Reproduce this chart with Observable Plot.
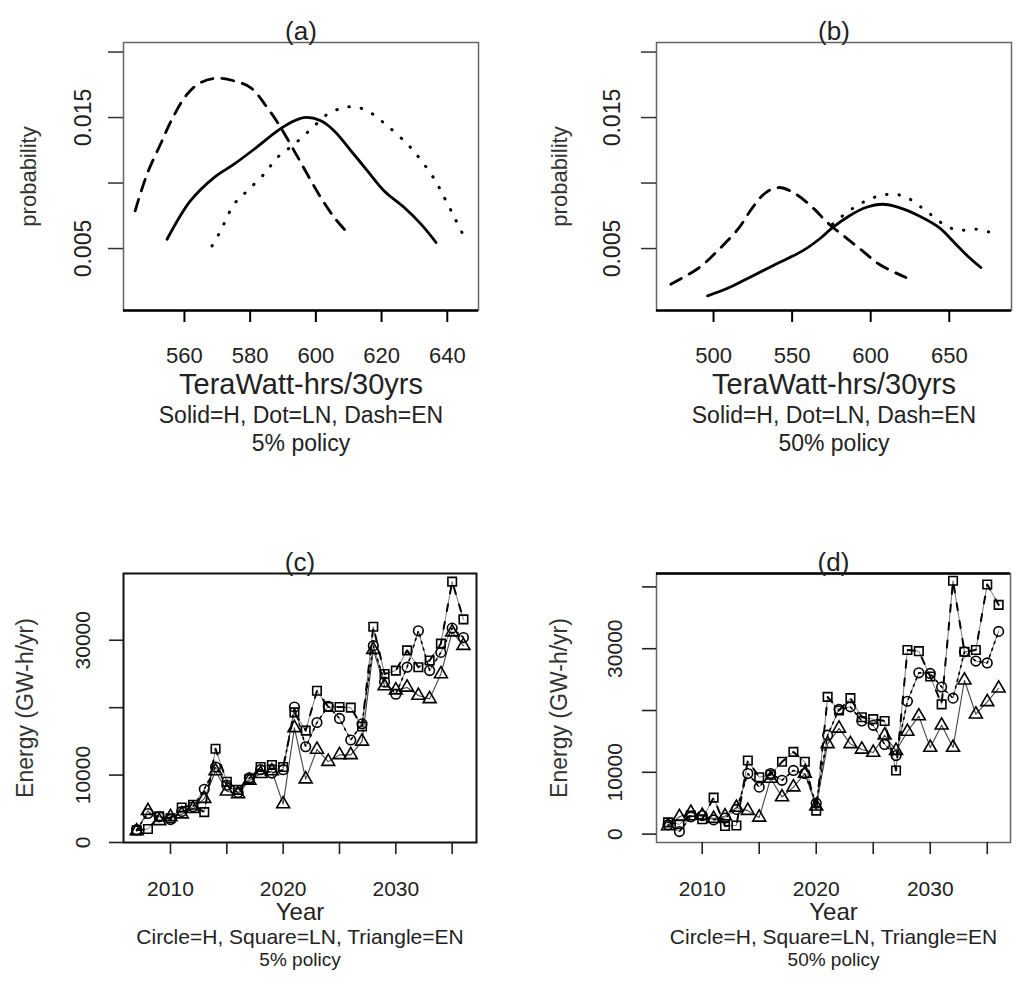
<!DOCTYPE html>
<html><head><meta charset="utf-8">
<script src="https://cdn.jsdelivr.net/npm/d3@7"></script>
<script src="https://cdn.jsdelivr.net/npm/@observablehq/plot@0.6"></script>
<style>
html,body{margin:0;padding:0;background:#fff;}
#root{position:relative;width:1024px;height:989px;overflow:hidden;font-family:"Liberation Sans",Arial,sans-serif;}
.panel{position:absolute;}
.panel svg{overflow:visible;}
</style></head><body><div id="root"></div>
<script>
// ---------- Panel (a): 5% policy densities ----------
const aSolidX = [554.7, 561.8, 569.0, 575.1, 581.2, 588.3, 592.4, 596.4, 601.5, 605.6, 610.7, 615.7, 620.8, 626.9, 632.0, 636.6];
const aSolidY = [0.00571, 0.00864, 0.01042, 0.01144, 0.01258, 0.01398, 0.01462, 0.01500, 0.01475, 0.01398, 0.01246, 0.01093, 0.00940, 0.00813, 0.00686, 0.00546];
const aDotX = [568.4, 571.0, 575.1, 579.1, 584.2, 588.3, 593.4, 598.5, 603.5, 608.6, 611.7, 615.7, 621.8, 627.9, 631.0, 636.1, 639.1, 642.2, 644.7];
const aDotY = [0.0052, 0.00635, 0.00838, 0.0094, 0.01067, 0.01195, 0.01296, 0.01411, 0.01525, 0.01576, 0.01581, 0.01551, 0.01436, 0.01296, 0.01207, 0.01029, 0.00889, 0.00737, 0.00611];
const aDashX = [545.0, 548.6, 552.7, 556.2, 560.8, 564.9, 570.0, 575.1, 580.1, 585.2, 589.3, 593.4, 597.4, 601.5, 605.6, 609.1];
const aDashY = [0.00788, 0.01067, 0.01296, 0.01487, 0.01678, 0.01767, 0.0180, 0.0178, 0.01729, 0.01576, 0.01424, 0.01246, 0.01067, 0.00889, 0.00737, 0.00635];

// ---------- Panel (b): 50% policy densities ----------
const bSolidX = [496.2, 510.0, 524.8, 541.8, 556.6, 567.2, 575.7, 586.3, 596.9, 607.6, 618.2, 630.9, 643.6, 654.2, 662.7, 670.1];
const bSolidY = [0.00139, 0.00202, 0.00291, 0.00393, 0.00482, 0.00571, 0.0066, 0.00749, 0.00813, 0.00838, 0.00813, 0.00749, 0.0066, 0.00533, 0.00431, 0.00355];
const bDotX = [575.7, 586.3, 596.9, 605.4, 613.9, 622.4, 630.9, 639.4, 647.9, 656.3, 667.0, 676.5];
const bDotY = [0.00686, 0.00788, 0.00864, 0.00902, 0.00915, 0.00894, 0.00826, 0.00749, 0.00673, 0.0064, 0.00648, 0.00622];
const bDashX = [472.8, 490.9, 503.6, 516.3, 524.8, 533.3, 541.8, 552.4, 563.0, 573.6, 584.2, 594.8, 605.4, 622.4];
const bDashY = [0.00228, 0.00355, 0.00495, 0.0066, 0.00813, 0.00927, 0.00966, 0.00915, 0.00813, 0.00686, 0.00584, 0.00482, 0.0038, 0.00279];

// ---------- Panels (c),(d): yearly energy ----------
const years = [2007, 2008, 2009, 2010, 2011, 2012, 2013, 2014, 2015, 2016, 2017, 2018, 2019, 2020, 2021, 2022, 2023, 2024, 2025, 2026, 2027, 2028, 2029, 2030, 2031, 2032, 2033, 2034, 2035, 2036];
const cH  = [1900, 4300, 3800, 3400, 4600, 5300, 7900, 11200, 8500, 7400, 9600, 10800, 10300, 10800, 20100, 14200, 17800, 20200, 18400, 15200, 17600, 29200, 23800, 22000, 26000, 31400, 25500, 28200, 31800, 30400];
const cLN = [1800, 2000, 3900, 3600, 5200, 5600, 4500, 13900, 9000, 7800, 9400, 11200, 11500, 11200, 19300, 16600, 22500, 20100, 20100, 20000, 17200, 32000, 25000, 25500, 28500, 26000, 27000, 29500, 38700, 33100];
const cEN = [1700, 4700, 3200, 3800, 4200, 5000, 6500, 10600, 7600, 7200, 9200, 10200, 10600, 5700, 17000, 9400, 13800, 12000, 13000, 13000, 15000, 28600, 23200, 22600, 23000, 21800, 21300, 25000, 31200, 29200];
const dH  = [1500, 400, 2800, 3000, 2300, 2600, 4000, 9800, 7600, 9800, 8700, 10300, 9800, 5000, 16000, 20200, 20600, 18300, 17600, 14500, 12700, 21500, 26100, 26000, 23800, 22000, 29500, 28000, 27700, 32800];
const dLN = [1900, 1600, 3000, 2400, 5900, 1300, 1400, 11900, 9200, 9600, 11700, 13300, 11700, 3800, 22200, 20000, 22000, 18900, 18600, 18300, 10300, 29800, 29600, 25500, 21000, 41000, 29500, 29800, 40400, 37100];
const dEN = [1300, 2800, 3500, 3000, 2500, 2900, 4300, 3800, 2700, 9000, 6000, 7600, 9800, 4500, 14600, 17100, 14600, 13700, 13200, 16000, 13500, 16600, 19100, 14000, 17600, 14000, 24900, 19400, 21400, 23600];

// ---------- ticks and labels ----------
const probTicks = [0.005, 0.010, 0.015, 0.020];
const probLabels = [0.005, 0.015];
const aXTicks = [560, 580, 600, 620, 640];
const bXTicks = [500, 550, 600, 650];
const yearTicks = [2010, 2015, 2020, 2025, 2030, 2035];
const yearLabels = [2010, 2020, 2030];
const cEnergyTicks = [0, 10000, 20000, 30000];
const dEnergyTicks = [0, 10000, 20000, 30000, 40000];
const energyLabels = [0, 10000, 30000];

const FONT = "Liberation Sans, Arial, sans-serif";
const INK = "#222";
const root = document.getElementById("root");

function place(svg, left, top) {
  const div = document.createElement("div");
  div.className = "panel";
  div.style.left = left + "px";
  div.style.top = top + "px";
  div.appendChild(svg);
  root.appendChild(div);
}

function pairs(xs, ys) { return xs.map((x, i) => ({x, y: ys[i]})); }

function densityPanel(o) {
  const lineOpts = {x: "x", y: "y", stroke: "#000", curve: "catmull-rom"};
  return Plot.plot({
    width: o.width, height: o.height,
    marginLeft: o.ml, marginRight: o.mr, marginTop: o.mt, marginBottom: o.mb,
    x: {domain: o.xDomain},
    y: {domain: o.yDomain},
    style: {fontFamily: FONT, color: INK, background: "transparent", overflow: "visible"},
    marks: [
      Plot.frame({stroke: "#666", strokeWidth: 1.5}),
      Plot.ruleY([o.yDomain[0]], {stroke: "#000", strokeWidth: 2.5}),
      Plot.axisX({ticks: o.xTicks, tickSize: 12, stroke: "#000", strokeWidth: 2, fill: "none", label: null}),
      Plot.axisY({ticks: probTicks, tickSize: 15, stroke: "#333", strokeWidth: 1.5, fill: "none", label: null}),
      Plot.text(o.xTicks, {x: d => d, text: d => String(d), frameAnchor: "bottom", dy: 45, fontSize: 22, lineAnchor: "middle", fill: INK}),
      Plot.text(probLabels, {y: d => d, text: d => d.toFixed(3), frameAnchor: "left", dx: o.ylabDx, rotate: -90, fontSize: 23, textAnchor: "middle", lineAnchor: "middle", fill: INK}),
      Plot.text(["probability"], {text: d => d, frameAnchor: "left", dx: o.ytitleDx, rotate: -90, fontSize: 22, textAnchor: "middle", lineAnchor: "middle", fill: "#333"}),
      Plot.text([o.title], {text: d => d, frameAnchor: "top", dy: -11, fontSize: 26, lineAnchor: "middle", fill: INK}),
      Plot.text(["TeraWatt-hrs/30yrs"], {text: d => d, frameAnchor: "bottom", dy: 74, fontSize: 29, lineAnchor: "middle", fill: INK}),
      Plot.text(["Solid=H, Dot=LN, Dash=EN"], {text: d => d, frameAnchor: "bottom", dy: 105, fontSize: 23, lineAnchor: "middle", fill: INK}),
      Plot.text([o.policy], {text: d => d, frameAnchor: "bottom", dy: 133, fontSize: 23, lineAnchor: "middle", fill: INK}),
      Plot.line(pairs(o.solidX, o.solidY), {...lineOpts, strokeWidth: 2.8}),
      Plot.line(pairs(o.dotX, o.dotY), {...lineOpts, strokeWidth: 3, strokeDasharray: "0.5,12", strokeLinecap: "round"}),
      Plot.line(pairs(o.dashX, o.dashY), {...lineOpts, strokeWidth: 2.8, strokeDasharray: "12,9"})
    ]
  });
}

function energyPanel(o) {
  const rows = (vals) => years.map((yr, i) => ({year: yr, value: vals[i]}));
  const H = rows(o.H), LN = rows(o.LN), EN = rows(o.EN);
  const dotOpts = {x: "year", y: "value", stroke: "#000", fill: "none", r: 4.8, strokeWidth: 1.6};
  const base = {x: "year", y: "value", stroke: "#777", strokeWidth: 1};
  return Plot.plot({
    width: o.width, height: o.height,
    marginLeft: o.ml, marginRight: o.mr, marginTop: o.mt, marginBottom: o.mb,
    x: {domain: o.xDomain},
    y: {domain: o.yDomain},
    style: {fontFamily: FONT, color: INK, background: "transparent", overflow: "visible"},
    marks: [
      Plot.frame({stroke: o.frameStroke, strokeWidth: o.frameWidth}),
      o.topRule ? Plot.ruleY([o.yDomain[1]], {stroke: "#000", strokeWidth: 2.5}) : null,
      Plot.axisX({ticks: yearTicks, tickSize: 12, stroke: "#222", strokeWidth: 1.6, fill: "none", label: null}),
      Plot.axisY({ticks: o.yTicks, tickSize: 14, stroke: "#222", strokeWidth: 1.6, fill: "none", label: null}),
      Plot.text(yearLabels, {x: d => d, text: d => String(d), frameAnchor: "bottom", dy: 47, fontSize: 21, lineAnchor: "middle", fill: INK}),
      Plot.text(energyLabels, {y: d => d, text: d => String(d), frameAnchor: "left", dx: o.ylabDx, rotate: -90, fontSize: 21, textAnchor: "middle", lineAnchor: "middle", fill: INK}),
      Plot.text(["Energy (GW-h/yr)"], {text: d => d, frameAnchor: "left", dx: o.ytitleDx, rotate: -90, fontSize: 23, textAnchor: "middle", lineAnchor: "middle", fill: "#333"}),
      Plot.text([o.title], {text: d => d, frameAnchor: "top", dy: -11, fontSize: 26, lineAnchor: "middle", fill: INK}),
      Plot.text(["Year"], {text: d => d, frameAnchor: "bottom", dy: 70, fontSize: 24, lineAnchor: "middle", fill: INK}),
      Plot.text(["Circle=H, Square=LN, Triangle=EN"], {text: d => d, frameAnchor: "bottom", dy: 95, fontSize: 21, lineAnchor: "middle", fill: INK}),
      Plot.text([o.policy], {text: d => d, frameAnchor: "bottom", dy: 117, fontSize: 19, lineAnchor: "middle", fill: INK}),
      Plot.line(EN, {...base, stroke: "#444", strokeWidth: 1.1}),
      Plot.line(H, base),
      Plot.line(LN, base),
      Plot.line(H, {x: "year", y: "value", stroke: "#000", strokeWidth: 1.6, strokeDasharray: "2,5"}),
      Plot.line(LN, {x: "year", y: "value", stroke: "#000", strokeWidth: 2, strokeDasharray: "7,11"}),
      Plot.dot(EN, {...dotOpts, symbol: "triangle"}),
      Plot.dot(H, {...dotOpts, symbol: "circle"}),
      Plot.dot(LN, {...dotOpts, symbol: "square"})
    ]
  });
}

const probDomain = [0.00027, 0.02073];

place(densityPanel({
  width: 512, height: 470, ml: 123, mr: 34, mt: 42, mb: 160,
  xDomain: [541.45, 649.5], yDomain: probDomain, xTicks: aXTicks,
  ylabDx: -40, ytitleDx: -95, title: "(a)", policy: "5% policy",
  solidX: aSolidX, solidY: aSolidY, dotX: aDotX, dotY: aDotY, dashX: aDashX, dashY: aDashY
}), 0, 0);

place(densityPanel({
  width: 512, height: 470, ml: 144, mr: 13, mt: 42, mb: 160,
  xDomain: [463.7, 689.6], yDomain: probDomain, xTicks: bXTicks,
  ylabDx: -44, ytitleDx: -97, title: "(b)", policy: "50% policy",
  solidX: bSolidX, solidY: bSolidY, dotX: bDotX, dotY: bDotY, dashX: bDashX, dashY: bDashY
}), 512, 0);

place(energyPanel({
  width: 512, height: 469, ml: 123, mr: 36, mt: 53, mb: 147,
  xDomain: [2005.83, 2037.16], yDomain: [0, 39900], yTicks: cEnergyTicks,
  ylabDx: -40, ytitleDx: -98, title: "(c)", policy: "5% policy",
  frameStroke: "#111", frameWidth: 2, topRule: false,
  H: cH, LN: cLN, EN: cEN
}), 0, 520);

place(energyPanel({
  width: 512, height: 469, ml: 144, mr: 14, mt: 53, mb: 147,
  xDomain: [2005.99, 2037.04], yDomain: [-1360, 42170], yTicks: dEnergyTicks,
  ylabDx: -41, ytitleDx: -97, title: "(d)", policy: "50% policy",
  frameStroke: "#666", frameWidth: 1.5, topRule: true,
  H: dH, LN: dLN, EN: dEN
}), 512, 520);
</script></body></html>
